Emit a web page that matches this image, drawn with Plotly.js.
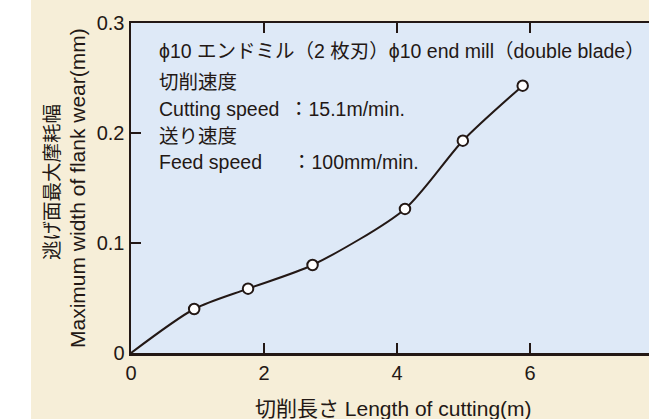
<!DOCTYPE html>
<html>
<head>
<meta charset="utf-8">
<script src="https://cdn.plot.ly/plotly-3.0.1.min.js"></script>
<style>
  html, body { margin: 0; padding: 0; background: #ffffff; overflow: hidden; }
  #chart { margin-left: 31px; width: 669px; height: 419px; }
</style>
</head>
<body>
<div id="chart"></div>
<script>
// Flank wear measured along the cutting length
const cuttingLength = [0.95, 1.76, 2.73, 4.12, 4.99, 5.89];   // m
const flankWear     = [0.040, 0.0585, 0.080, 0.131, 0.193, 0.243]; // mm

// Fitted wear curve starts at the origin and runs through the measurements
const curveX = [0].concat(cuttingLength);
const curveY = [0].concat(flankWear);

const xTickVals = [0, 2, 4, 6];
const xTickText = ['0', '2', '4', '6'];
const yTickVals = [0, 0.1, 0.2, 0.3];
const yTickText = ['0', '0.1', '0.2', '0.3'];

const ink = '#231815';
const font = "'Liberation Sans', Arial, 'Noto Sans CJK JP', sans-serif";

const traces = [
  {
    x: curveX, y: curveY,
    mode: 'lines',
    line: { color: ink, width: 2, shape: 'spline', smoothing: 0.75 },
    hoverinfo: 'skip', showlegend: false
  },
  {
    x: cuttingLength, y: flankWear,
    mode: 'markers',
    marker: { size: 10.5, color: '#ffffff', line: { color: ink, width: 2 } },
    showlegend: false
  }
];

function note(text, x, y, size, extra) {
  return Object.assign({
    xref: 'paper', yref: 'paper', x: x, y: y, text: text,
    showarrow: false, xanchor: 'left', yanchor: 'middle',
    font: { family: font, size: size, color: ink }
  }, extra || {});
}

// plot area: 532 x 330 px, left edge at 100 px, top at 23 px
const px = v => (v - 100) / 532;
const py = v => (353 - v) / 330;

const annotations = [
  note('ϕ10 エンドミル（2 枚刃）ϕ10 end mill（double blade）', px(126), py(51), 19.5),
  note('切削速度', px(126), py(82), 19.5),
  note('Cutting speed', px(126), py(109), 19.5),
  note('：15.1m/min.', px(256), py(109), 19.5),
  note('送り速度', px(126), py(136), 19.5),
  note('Feed speed', px(126), py(162), 19.5),
  note('：100mm/min.', px(259), py(162), 19.5),
  note('逃げ面最大摩耗幅', px(21), py(182), 19.5, { xanchor: 'center', textangle: -90 }),
  note('Maximum width of flank wear(mm)', px(46), py(188), 21, { xanchor: 'center', textangle: -90 }),
  note('切削長さ Length of cutting(m)', px(362.5), py(408), 21, { xanchor: 'center' })
];

const layout = {
  width: 669, height: 419,
  margin: { l: 100, r: 37, t: 23, b: 66 },
  paper_bgcolor: '#f6eed8',
  plot_bgcolor: '#dee9f7',
  font: { family: font, color: ink, size: 20 },
  xaxis: {
    range: [0, 8], tickvals: xTickVals, ticktext: xTickText,
    ticks: 'inside', ticklen: 10, tickwidth: 1.5, tickcolor: ink,
    showline: true, linecolor: ink, linewidth: 2.5, mirror: 'ticks',
    showgrid: false, zeroline: false,
    tickfont: { family: font, size: 20, color: ink }
  },
  yaxis: {
    range: [0, 0.3], tickvals: yTickVals, ticktext: yTickText,
    ticks: 'inside', ticklen: 10, tickwidth: 1.5, tickcolor: ink,
    showline: true, linecolor: ink, linewidth: 2.5, mirror: 'ticks',
    showgrid: false, zeroline: false,
    tickfont: { family: font, size: 20, color: ink }
  },
  annotations: annotations,
  showlegend: false
};

Plotly.newPlot('chart', traces, layout, { displayModeBar: false, staticPlot: true });
</script>
</body>
</html>
